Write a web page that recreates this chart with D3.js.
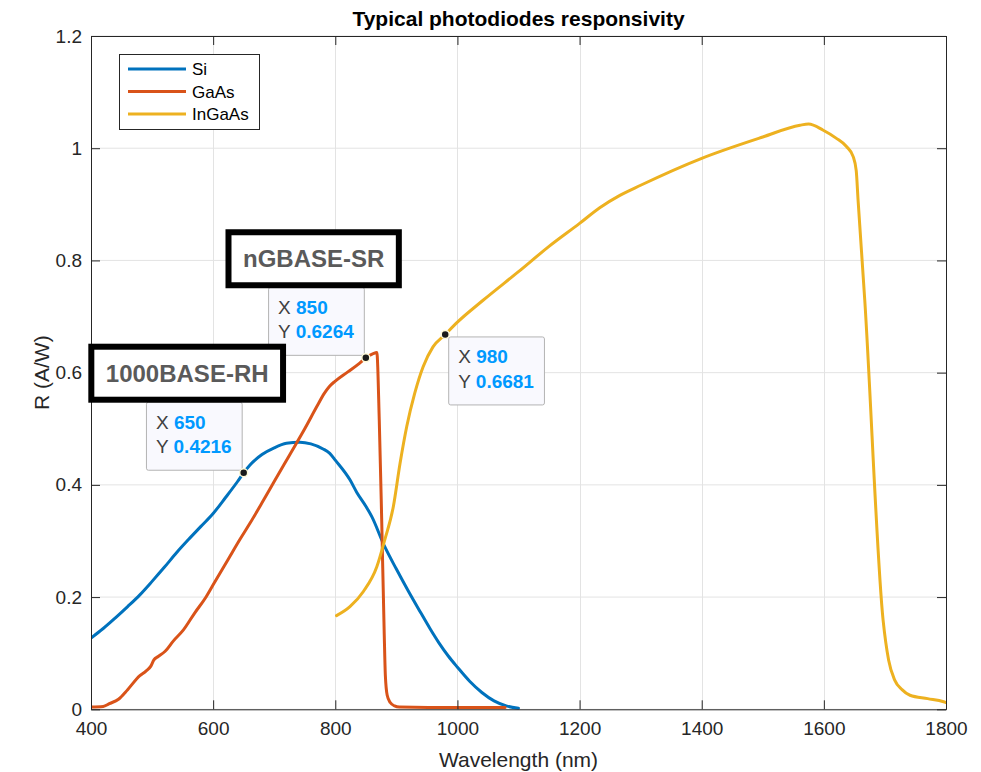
<!DOCTYPE html>
<html>
<head>
<meta charset="utf-8">
<script src="https://cdn.jsdelivr.net/npm/d3@7"></script>
<style>
  body { margin: 0; background: #fff; }
  svg { display: block; font-family: "Liberation Sans", Arial, Helvetica, sans-serif; }
</style>
</head>
<body>
<svg id="chart" width="981" height="772"></svg>
<script>
'use strict';

// --- data ---
var seriesNames = ['Si', 'GaAs', 'InGaAs'];
var seriesColors = ['#0072BD', '#D95319', '#EDB120'];

var siData = [
  [400, 0.127], [420, 0.144], [440, 0.163], [460, 0.183], [480, 0.204],
  [500, 0.228], [520, 0.253], [540, 0.279], [560, 0.303], [580, 0.326],
  [600, 0.349], [620, 0.377], [640, 0.406], [650, 0.4216], [660, 0.435],
  [680, 0.454], [700, 0.466], [720, 0.474], [742, 0.476], [760, 0.473],
  [780, 0.464], [791, 0.456], [800, 0.444], [824, 0.409], [835, 0.387],
  [850, 0.362], [860, 0.343], [880, 0.292], [900, 0.250], [920, 0.210],
  [940, 0.172], [955, 0.144], [970, 0.118], [985, 0.095], [1000, 0.075],
  [1020, 0.050], [1040, 0.030], [1060, 0.015], [1080, 0.006], [1100, 0.002]
];

var gaasData = [
  [400, 0.004], [420, 0.005], [430, 0.010], [445, 0.018], [460, 0.035],
  [480, 0.060], [490, 0.068], [498, 0.077], [503, 0.088], [510, 0.094],
  [521, 0.103], [535, 0.122], [551, 0.141], [570, 0.172], [587, 0.198],
  [600, 0.222], [625, 0.268], [644, 0.303], [660, 0.331], [680, 0.368],
  [700, 0.406], [725, 0.453], [750, 0.500], [770, 0.540], [782, 0.563],
  [790, 0.575], [800, 0.585], [820, 0.601], [840, 0.617], [850, 0.6264],
  [862, 0.634], [868, 0.636], [872, 0.516], [876, 0.337], [880, 0.141],
  [882, 0.060], [885, 0.025], [890, 0.012], [897, 0.006], [905, 0.004],
  [1000, 0.003], [1078, 0.003]
];

var ingaasData = [
  [802, 0.167], [824, 0.183], [846, 0.210], [868, 0.254], [881, 0.302],
  [895, 0.361], [906, 0.438], [917, 0.504], [930, 0.563], [944, 0.611],
  [960, 0.646], [980, 0.6681], [1000, 0.690], [1042, 0.729], [1100, 0.780],
  [1150, 0.825], [1200, 0.866], [1233, 0.894], [1266, 0.916], [1300, 0.934],
  [1400, 0.982], [1500, 1.020], [1561, 1.041], [1575, 1.043], [1599, 1.032],
  [1620, 1.018], [1637, 1.003], [1648, 0.985], [1653, 0.960], [1656, 0.908],
  [1667, 0.729], [1697, 0.159], [1706, 0.088], [1716, 0.052], [1728, 0.035],
  [1741, 0.025], [1770, 0.019], [1796, 0.0135], [1800, 0.012]
];

var xTicks = [400, 600, 800, 1000, 1200, 1400, 1600, 1800];
var xTickLabels = ['400', '600', '800', '1000', '1200', '1400', '1600', '1800'];
var yTicks = [0, 0.2, 0.4, 0.6, 0.8, 1, 1.2];
var yTickLabels = ['0', '0.2', '0.4', '0.6', '0.8', '1', '1.2'];

// data tips: series index, x, y, placement of the box
var tipSeries = [0, 1, 2];
var tipX = [650, 850, 980];
var tipY = [0.4216, 0.6264, 0.6681];
var tipPlace = ['topleft', 'topleft', 'bottomright'];

// text box annotations, centred at data coordinates
var noteTexts = ['1000BASE-RH', 'nGBASE-SR'];
var noteX = [557.5, 764.6];
var noteY = [0.599, 0.803];

var titleText = 'Typical photodiodes responsivity';
var xLabel = 'Wavelength (nm)';
var yLabel = 'R (A/W)';

// --- layout ---
var svg = d3.select('#chart'),
    plot = { left: 91, right: 946, top: 36, bottom: 709.3 },
    axisColor = '#262626',
    tickFont = 19,
    tickLen = 9;

var x = d3.scaleLinear().domain([400, 1800]).range([plot.left, plot.right]);
var y = d3.scaleLinear().domain([0, 1.2]).range([plot.bottom, plot.top]);

var allSeries = [siData, gaasData, ingaasData];

/**
 * Style an axis group the way MATLAB draws them.
 */
function styleAxis(g) {
  g.attr('font-family', null).attr('font-size', tickFont);
  g.select('.domain').attr('stroke', axisColor).attr('stroke-width', 1);
  g.selectAll('.tick line').attr('stroke', axisColor).attr('stroke-width', 1);
  g.selectAll('.tick text').attr('fill', axisColor);
}

// grid
var grid = svg.append('g').attr('class', 'grid')
  .attr('stroke', '#e3e3e3').attr('stroke-width', 1);
grid.selectAll('line.gx').data(xTicks).enter().append('line')
  .attr('class', 'gx')
  .attr('x1', function(d) { return Math.round(x(d)) + 0.5; })
  .attr('x2', function(d) { return Math.round(x(d)) + 0.5; })
  .attr('y1', plot.top).attr('y2', plot.bottom);
grid.selectAll('line.gy').data(yTicks).enter().append('line')
  .attr('class', 'gy')
  .attr('y1', function(d) { return y(d); })
  .attr('y2', function(d) { return y(d); })
  .attr('x1', plot.left).attr('x2', plot.right);

// curves
svg.append('clipPath').attr('id', 'plotClip').append('rect')
  .attr('x', plot.left).attr('y', plot.top)
  .attr('width', plot.right - plot.left).attr('height', plot.bottom - plot.top + 2);

var line = d3.line()
  .x(function(d) { return x(d[0]); })
  .y(function(d) { return y(d[1]); })
  .curve(d3.curveMonotoneX);

svg.append('g').attr('clip-path', 'url(#plotClip)')
  .selectAll('path').data(allSeries).enter().append('path')
  .attr('d', line)
  .attr('fill', 'none')
  .attr('stroke', function(d, i) { return seriesColors[i]; })
  .attr('stroke-width', 3)
  .attr('stroke-linejoin', 'round')
  .attr('stroke-linecap', 'round');

// axes (ticks point inward, box on)
svg.append('g')
  .attr('transform', 'translate(0,' + plot.bottom + ')')
  .call(d3.axisBottom(x).tickValues(xTicks).tickSize(-tickLen).tickSizeOuter(0).tickPadding(12)
    .tickFormat(function(d, i) { return xTickLabels[i]; }))
  .call(styleAxis);

svg.append('g')
  .attr('transform', 'translate(0,' + plot.top + ')')
  .call(d3.axisTop(x).tickValues(xTicks).tickSize(-tickLen).tickSizeOuter(0).tickFormat(''))
  .call(styleAxis);

svg.append('g')
  .attr('transform', 'translate(' + plot.left + ',0)')
  .call(d3.axisLeft(y).tickValues(yTicks).tickSize(-tickLen).tickSizeOuter(0).tickPadding(9)
    .tickFormat(function(d, i) { return yTickLabels[i]; }))
  .call(styleAxis);

svg.append('g')
  .attr('transform', 'translate(' + plot.right + ',0)')
  .call(d3.axisRight(y).tickValues(yTicks).tickSize(-tickLen).tickSizeOuter(0).tickFormat(''))
  .call(styleAxis);

// title and labels
svg.append('text')
  .attr('x', (plot.left + plot.right) / 2).attr('y', 25.5)
  .attr('text-anchor', 'middle')
  .attr('font-size', 21).attr('font-weight', 'bold').attr('fill', '#000')
  .text(titleText);

svg.append('text')
  .attr('x', (plot.left + plot.right) / 2).attr('y', 767)
  .attr('text-anchor', 'middle')
  .attr('font-size', 21).attr('fill', axisColor)
  .text(xLabel);

svg.append('text')
  .attr('transform', 'translate(49,' + ((plot.top + plot.bottom) / 2) + ') rotate(-90)')
  .attr('text-anchor', 'middle')
  .attr('font-size', 21).attr('fill', axisColor)
  .text(yLabel);

// legend
var legend = svg.append('g').attr('class', 'legend');
legend.append('rect')
  .attr('x', 119.5).attr('y', 54.5).attr('width', 140).attr('height', 75)
  .attr('fill', '#fff').attr('stroke', axisColor).attr('stroke-width', 1);
var legendRow = legend.selectAll('g.row').data(seriesNames).enter().append('g')
  .attr('class', 'row')
  .attr('transform', function(d, i) { return 'translate(0,' + (69 + i * 22.5) + ')'; });
legendRow.append('line')
  .attr('x1', 128).attr('x2', 186)
  .attr('stroke', function(d, i) { return seriesColors[i]; })
  .attr('stroke-width', 3);
legendRow.append('text')
  .attr('x', 192).attr('dy', '0.36em')
  .attr('font-size', 17).attr('fill', '#000')
  .text(function(d) { return d; });

// data tips
var tips = svg.append('g').attr('class', 'datatips');
tipSeries.forEach(function(s, i) {
  var px = x(tipX[i]),
      py = y(tipY[i]),
      g = tips.append('g'),
      box = g.append('rect'),
      rows = [['X', String(tipX[i])], ['Y', String(tipY[i])]],
      w = 0, bx, by, h = 68;

  rows.forEach(function(r, j) {
    var t = g.append('text')
      .attr('font-size', 19)
      .attr('y', 27 + j * 24.5);
    t.append('tspan').attr('fill', '#404040').text(r[0] + ' ');
    t.append('tspan').attr('fill', '#0099FF').attr('font-weight', 'bold').text(r[1]);
    t.attr('x', 10);
    w = Math.max(w, t.node().getComputedTextLength());
  });
  w += 20;

  if (tipPlace[i] === 'topleft') {
    bx = px - 2 - w;
    by = py - 3 - h;
  } else {
    bx = px + 3;
    by = py + 2;
  }
  g.attr('transform', 'translate(' + bx + ',' + by + ')');
  box.attr('x', 0.5).attr('y', 0.5).attr('width', w).attr('height', h)
    .attr('rx', 2).attr('ry', 2)
    .attr('fill', '#f9f9fe').attr('stroke', '#b3b3b3').attr('stroke-width', 1);

  tips.append('circle')
    .attr('cx', px).attr('cy', py).attr('r', 4)
    .attr('fill', '#1a1a1a')
    .attr('stroke', '#fffbd9').attr('stroke-width', 1.5);
});

// text box annotations
var notes = svg.append('g').attr('class', 'notes');
noteTexts.forEach(function(txt, i) {
  var cx = x(noteX[i]),
      cy = y(noteY[i]),
      g = notes.append('g'),
      rect = g.append('rect'),
      t, tw, rw, rh = 53;

  t = g.append('text')
    .attr('x', cx).attr('y', cy).attr('dy', '0.36em')
    .attr('text-anchor', 'middle')
    .attr('font-size', 24).attr('font-weight', 'bold')
    .attr('fill', '#5a5a5a')
    .text(txt);
  tw = t.node().getComputedTextLength();
  rw = tw + 29;
  rect.attr('x', cx - rw / 2).attr('y', cy - rh / 2)
    .attr('width', rw).attr('height', rh)
    .attr('fill', '#fff').attr('stroke', '#000').attr('stroke-width', 6);
});
</script>
</body>
</html>
